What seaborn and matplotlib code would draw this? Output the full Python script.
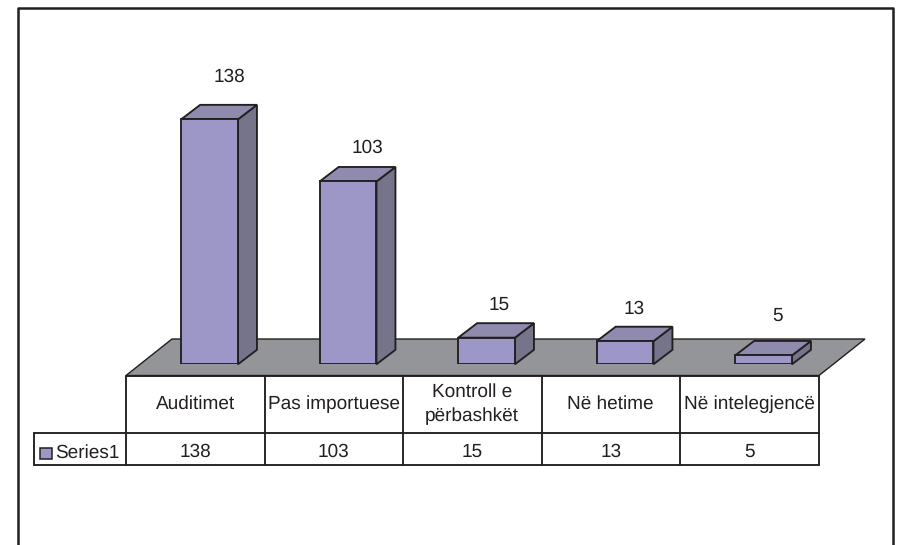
import matplotlib
matplotlib.use("Agg")
import matplotlib.pyplot as plt
import seaborn as sns

# Data
categories = ["Auditimet", "Pas importuese", "Kontroll e\npërbashkët", "Në hetime", "Në intelegjencë"]
values = [138, 103, 15, 13, 5]
series_name = "Series1"

# Colors
front_col = "#9d97c8"
side_col = "#75748a"
top_col = "#8f8bae"
floor_col = "#939598"
line_col = "#231f20"

sns.set_theme(style="white")
plt.rcParams['font.family'] = ['Liberation Sans', 'DejaVu Sans']
plt.rcParams['text.hinting'] = 'no_hinting'
plt.rcParams['text.hinting_factor'] = 1

W, H = 898, 545
fs = 13.5
lw = 1.35
fig = plt.figure(figsize=(W / 100, H / 100), dpi=100, facecolor="white")

# Overlay in pixels for frame, floor and the data table
bg = fig.add_axes([0, 0, 1, 1], zorder=0)
bg.set_xlim(0, W)
bg.set_ylim(H, 0)
bg.axis("off")

# Bars, one category = 138.5 px, one unit = 1.775 px
cell_w = 138.5
unit = 1.775
base_y = 364.3
plot_left = 140.3
plot_h = 300
ax = fig.add_axes([plot_left / W, (H - base_y) / H, cell_w * 5 / W, plot_h / H], zorder=1)
ax.patch.set_alpha(0)

sns.barplot(x=categories, y=values, color=front_col, saturation=1, width=0.41,
            edgecolor=line_col, linewidth=lw, ax=ax, zorder=3)
ax.set_xlim(-0.5, 4.5)
ax.set_ylim(0, plot_h / unit)
ax.axis("off")

# Depth of the 3D boxes
dx = 19 / cell_w
dy = 14.5 / unit

# Label nudges in px, the labels do not sit at a constant spot over the boxes
label_gap = [28, 19, 18.5, 18, 25.5]
label_shift = [1, 0, -6.5, -10, -5.5]

for p, v, gap, shift in zip(ax.patches, values, label_gap, label_shift):
    x0 = p.get_x()
    x1 = x0 + p.get_width()
    h = p.get_height()
    ax.fill([x1, x1 + dx, x1 + dx, x1], [0, dy, h + dy, h], fc=side_col, ec=line_col, lw=lw,
            zorder=2, clip_on=False)
    ax.fill([x0, x0 + dx, x1 + dx, x1], [h, h + dy, h + dy, h], fc=top_col, ec=line_col, lw=lw,
            zorder=2, clip_on=False)
    ax.annotate(str(v), (x0 + p.get_width() / 2 + dx, h + dy), xytext=(shift * 0.72, gap * 0.72),
                textcoords="offset points", ha="center", va="center", fontsize=fs, color=line_col)

# Chart frame, bottom edge runs off the picture
bg.plot([17.5, 17.5, 893, 893], [H + 5, 7.5, 7.5, H + 5], color=line_col, lw=1.8, clip_on=False)

# Floor
bg.fill([126, 172, 865, 819], [375.5, 339, 339, 375.5], fc=floor_col, ec=line_col, lw=1.0)

# Data table
table_left = 126
legend_left = 34
row_top = 375.5
row_mid = 433
row_bot = 465
table_right = table_left + cell_w * 5
bg.plot([table_left, table_right], [row_top, row_top], color=line_col, lw=lw)
bg.plot([legend_left, table_right], [row_mid, row_mid], color=line_col, lw=lw)
bg.plot([legend_left, table_right], [row_bot, row_bot], color=line_col, lw=lw)
bg.plot([legend_left, legend_left], [row_mid, row_bot], color=line_col, lw=lw)
for i in range(6):
    xv = table_left + cell_w * i
    bg.plot([xv, xv], [row_top, row_bot], color=line_col, lw=lw)

for i, (cat, v) in enumerate(zip(categories, values)):
    xc = table_left + cell_w * (i + 0.5)
    bg.text(xc, (row_top + row_mid) / 2 - 0.5, cat, ha="center", va="center", fontsize=fs,
            color=line_col, linespacing=1.5)
    bg.text(xc, (row_mid + row_bot) / 2 + 2.5, str(v), ha="center", va="center", fontsize=fs,
            color=line_col)

# Legend key inside the table
bg.fill([39.5, 51.5, 51.5, 39.5], [447.5, 447.5, 459, 459], fc=front_col, ec=line_col, lw=1.1)
bg.text(55, 452.5, series_name, ha="left", va="center", fontsize=fs, color=line_col)

fig.savefig("out.png", dpi=100)
